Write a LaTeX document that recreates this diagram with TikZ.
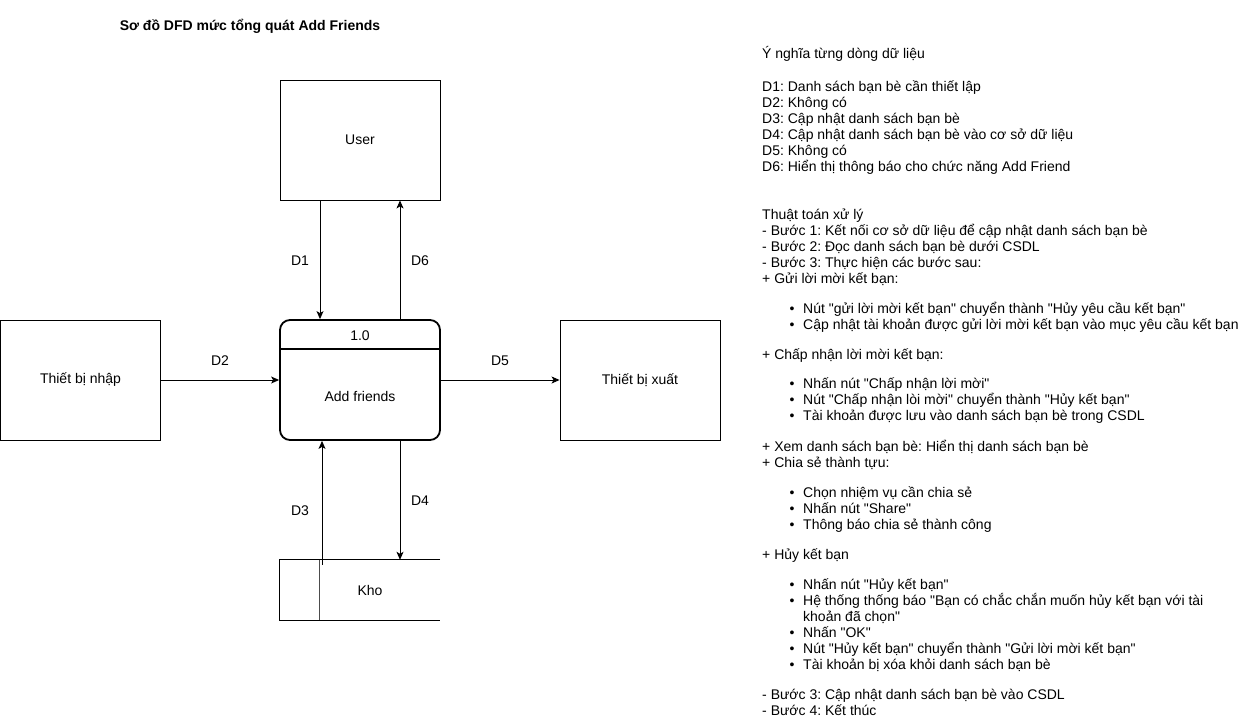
\documentclass[tikz,border=0pt]{standalone}
\usepackage{fontspec}
\setmainfont{Liberation Sans}[Ligatures=TeXOff]
\usetikzlibrary{arrows.meta}
\frenchspacing
\begin{document}
\begin{tikzpicture}[x=1pt,y=-1pt,
  font=\fontsize{14}{16}\selectfont\frenchspacing,
  box/.style={draw,line width=0.9pt,minimum width=160pt,minimum height=120pt,inner sep=0pt},
  procbox/.style={draw,line width=1.8pt,rounded corners=10pt,minimum width=160pt,minimum height=120pt,inner sep=0pt},
  arr/.style={line width=0.9pt,-{Stealth[length=8pt,width=7pt,inset=2pt]}},
  lbl/.style={inner sep=0pt},
  txt/.style={anchor=base west,inner sep=0pt},
  bul/.style={anchor=base,inner sep=0pt}]
\useasboundingbox (0,0) rectangle (1241,717);
% title
\node[lbl,font=\fontsize{14}{16}\selectfont\bfseries] (title) at (250,26) {Sơ đồ DFD mức tổng quát Add Friends};
% nodes
\node[box] (user) at (360,140) {User};
\node[box] (inp) at (80.5,380) {Thiết bị nhập};
\node[box] (outp) at (640,380) {Thiết bị xuất};
\node[procbox] (proc) at (360,380) {};
\draw[line width=1.8pt] ([yshift=-30pt]proc.north west) -- ([yshift=-30pt]proc.north east);
\node[lbl] (pnum) at (360,336) {1.0};
\node[lbl] (pname) at (360,396) {Add friends};
\node[minimum width=160pt,minimum height=60pt,inner sep=0pt] (kho) at (360,590) {};
\draw[line width=0.9pt] (kho.north east) -- (kho.north west) -- (kho.south west) -- (kho.south east);
\draw[line width=0.9pt,black!70] ([xshift=40pt]kho.north west) -- ([xshift=40pt]kho.south west);
\node[lbl] (kholbl) at (370,590) {Kho};
% connectors
\draw[arr] ([xshift=-40pt]user.south) -- ([xshift=-40pt]proc.north);
\draw[arr] ([xshift=40pt]proc.north) -- ([xshift=40pt]user.south);
\draw[arr] (inp.east) -- (proc.west);
\draw[arr] (proc.east) -- (outp.west);
\draw[arr] ([xshift=-38pt,yshift=-5pt]kho.north) -- ([xshift=-38pt]proc.south);
\draw[arr] ([xshift=40pt]proc.south) -- ([xshift=40pt]kho.north);
\node[lbl] (d1) at (300,261) {D1};
\node[lbl] (d6) at (420,261) {D6};
\node[lbl] (d2) at (220,361) {D2};
\node[lbl] (d5) at (500,361) {D5};
\node[lbl] (d3) at (300,511) {D3};
\node[lbl] (d4) at (420,501) {D4};
% text block
\node[txt] (t1) at (762,59) {Ý nghĩa từng dòng dữ liệu};
\node[txt] (t2) at (762,91) {D1: Danh sách bạn bè cần thiết lập};
\node[txt] (t3) at (762,107) {D2: Không có};
\node[txt] (t4) at (762,123) {D3: Cập nhật danh sách bạn bè};
\node[txt] (t5) at (762,139) {D4: Cập nhật danh sách bạn bè vào cơ sở dữ liệu};
\node[txt] (t6) at (762,155) {D5: Không có};
\node[txt] (t7) at (762,171) {D6: Hiển thị thông báo cho chức năng Add Friend};
\node[txt] (t8) at (762,219) {Thuật toán xử lý};
\node[txt] (t9) at (762,235) {- Bước 1: Kết nối cơ sở dữ liệu để cập nhật danh sách bạn bè};
\node[txt] (t10) at (762,251) {- Bước 2: Đọc danh sách bạn bè dưới CSDL};
\node[txt] (t11) at (762,267) {- Bước 3: Thực hiện các bước sau:};
\node[txt] (t12) at (762,283) {+ Gửi lời mời kết bạn:};
\node[bul] (b1) at (792,313) {•};
\node[txt] (t13) at (803,313) {Nút "gửi lời mời kết bạn" chuyển thành "Hủy yêu cầu kết bạn"};
\node[bul] (b2) at (792,329) {•};
\node[txt] (t14) at (803,329) {Cập nhật tài khoản được gửi lời mời kết bạn vào mục yêu cầu kết bạn};
\node[txt] (t15) at (762,359) {+ Chấp nhận lời mời kết bạn:};
\node[bul] (b3) at (792,388) {•};
\node[txt] (t16) at (803,388) {Nhấn nút "Chấp nhận lời mời"};
\node[bul] (b4) at (792,404) {•};
\node[txt] (t17) at (803,404) {Nút "Chấp nhận lòi mời" chuyển thành "Hủy kết bạn"};
\node[bul] (b5) at (792,420) {•};
\node[txt] (t18) at (803,420) {Tài khoản được lưu vào danh sách bạn bè trong CSDL};
\node[txt] (t19) at (762,451) {+ Xem danh sách bạn bè: Hiển thị danh sách bạn bè};
\node[txt] (t20) at (762,467) {+ Chia sẻ thành tựu:};
\node[bul] (b6) at (792,497) {•};
\node[txt] (t21) at (803,497) {Chọn nhiệm vụ cần chia sẻ};
\node[bul] (b7) at (792,513) {•};
\node[txt] (t22) at (803,513) {Nhấn nút "Share"};
\node[bul] (b8) at (792,529) {•};
\node[txt] (t23) at (803,529) {Thông báo chia sẻ thành công};
\node[txt] (t24) at (762,559) {+ Hủy kết bạn};
\node[bul] (b9) at (792,589) {•};
\node[txt] (t25) at (803,589) {Nhấn nút "Hủy kết bạn"};
\node[bul] (b10) at (792,605) {•};
\node[txt] (t26) at (803,605) {Hệ thống thống báo "Bạn có chắc chắn muốn hủy kết bạn với tài};
\node[txt] (t27) at (803,621) {khoản đã chọn"};
\node[bul] (b11) at (792,637) {•};
\node[txt] (t28) at (803,637) {Nhấn "OK"};
\node[bul] (b12) at (792,653) {•};
\node[txt] (t29) at (803,653) {Nút "Hủy kết bạn" chuyển thành "Gửi lời mời kết bạn"};
\node[bul] (b13) at (792,669) {•};
\node[txt] (t30) at (803,669) {Tài khoản bị xóa khỏi danh sách bạn bè};
\node[txt] (t31) at (762,699) {- Bước 3: Cập nhật danh sách bạn bè vào CSDL};
\node[txt] (t32) at (762,715) {- Bước 4: Kết thúc};
\end{tikzpicture}
\end{document}
